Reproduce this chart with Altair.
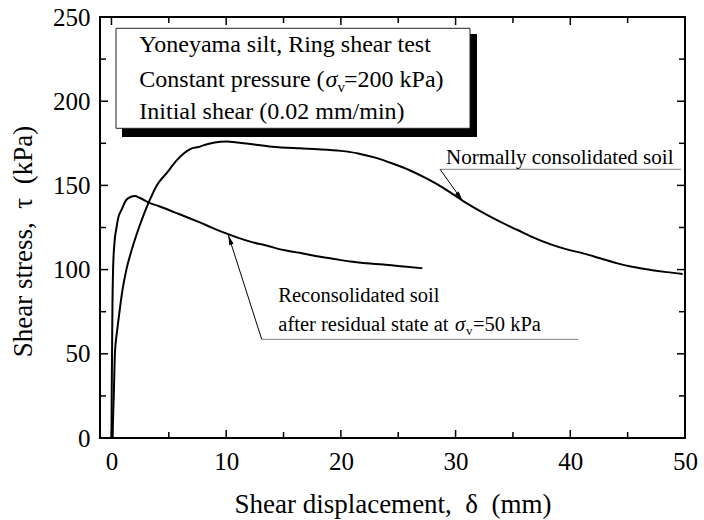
import altair as alt
import pandas as pd

# ---- data ----
nc_x = [0.1, 0.15, 0.2, 0.3, 0.5, 0.7, 0.95, 1.3, 1.8, 2.4, 2.95, 3.35, 3.95, 4.9, 5.7, 6.3, 7.0,
        7.6, 8.1, 9.0, 10.0, 11.0, 12.1, 14.0, 16.4, 18.0, 20.0, 21.5, 23.0, 24.5, 26.0, 27.5, 28.3,
        29.5, 30.6, 32.5, 34.0, 35.4, 36.8, 38.3, 39.7, 41.2, 42.6, 44.1, 45.5, 47.0, 48.4, 49.8]
nc_y = [0, 15, 25, 50, 64, 75, 87.5, 100, 112.5, 125, 135, 141.5, 150, 158, 165, 169, 172,
        172.8, 174, 175.5, 176, 175.5, 174.6, 173, 172, 171.5, 170.5, 169, 166.5, 163, 159, 154, 151,
        146, 141, 133.4, 128, 123.5, 119, 115, 112, 109.5, 106.7, 103.7, 101.5, 99.8, 98.5, 97.4]

rc_x = [0.0, 0.02, 0.05, 0.08, 0.14, 0.25, 0.44, 0.6, 0.87, 1.31, 1.7, 2.03, 2.5, 3.35, 4.1, 4.8,
        5.5, 6.26, 7.7, 8.8, 10.0, 11.0, 12.1, 13.5, 15.0, 16.4, 17.9, 19.4, 20.8, 22.2, 23.7, 25.5, 27.1]
rc_y = [0, 25, 50, 75, 100, 115, 125, 131, 135.4, 141.5, 143.3, 143.7, 142.5, 139.5, 137.8, 136,
        134, 132, 128, 124.8, 121.5, 119, 116.6, 114.3, 111.6, 110, 107.9, 106.3, 104.8, 103.8,
        103.0, 101.8, 100.8]

x_major = [0, 10, 20, 30, 40, 50]
x_minor = [5, 15, 25, 35, 45]
y_major = [0, 50, 100, 150, 200, 250]
y_minor = [25, 75, 125, 175, 225]

box_lines = ["Yoneyama silt, Ring shear test", "Constant pressure (", "=200 kPa)",
             "Initial shear (0.02 mm/min)"]
nc_label = "Normally consolidated soil"
rc_label1 = "Reconsolidated soil"
rc_label2 = "after residual state at"
rc_label3 = "=50 kPa"

W, H = 585, 421
FONT = "Liberation Serif"

xs = alt.Scale(domain=[-1, 50], nice=False, zero=False)
ys = alt.Scale(domain=[0, 250], nice=False, zero=False)

curves = pd.concat([
    pd.DataFrame({"x": nc_x, "y": nc_y, "s": "nc"}),
    pd.DataFrame({"x": rc_x, "y": rc_y, "s": "rc"}),
])

lines = alt.Chart(curves).mark_line(color="black", strokeWidth=2, interpolate="monotone").encode(
    x=alt.X("x:Q", scale=xs, axis=alt.Axis(
        values=x_major, ticks=False, tickSize=0, domain=False, grid=False, labelFlush=False,
        labelFontSize=25, labelPadding=11, labelColor="black",
        title="Shear displacement,\u00a0 \u03b4\u00a0 (mm)", titleFontSize=27,
        titleFontWeight="normal", titleColor="black", titleY=74, titleBaseline="alphabetic")),
    y=alt.Y("y:Q", scale=ys, axis=alt.Axis(
        values=y_major, ticks=False, tickSize=0, domain=False, grid=False, labelFlush=False,
        labelFontSize=25, labelPadding=10, labelColor="black",
        title="Shear stress,\u00a0 \u03c4\u00a0 (kPa)", titleFontSize=27, titleFontWeight="normal",
        titleColor="black", titleX=-69, titleY=224, titleAngle=270, titleAlign="center",
        titleBaseline="alphabetic")),
    detail="s:N",
)

def xticks(vals, length):
    d = pd.DataFrame({"x": vals})
    b = alt.Chart(d).mark_rule(color="black", strokeWidth=1.5).encode(
        x=alt.X("x:Q", scale=xs), y=alt.value(H), y2=alt.value(H - length))
    t = alt.Chart(d).mark_rule(color="black", strokeWidth=1.5).encode(
        x=alt.X("x:Q", scale=xs), y=alt.value(0), y2=alt.value(length))
    return [b, t]

def yticks(vals, length):
    d = pd.DataFrame({"y": vals})
    l = alt.Chart(d).mark_rule(color="black", strokeWidth=1.5).encode(
        y=alt.Y("y:Q", scale=ys), x=alt.value(0), x2=alt.value(length))
    r = alt.Chart(d).mark_rule(color="black", strokeWidth=1.5).encode(
        y=alt.Y("y:Q", scale=ys), x=alt.value(W), x2=alt.value(W - length))
    return [l, r]

dummy = pd.DataFrame({"k": [0]})

def txt(s, px, py, size, italic=False):
    return alt.Chart(dummy).mark_text(
        text=s, font=FONT, fontSize=size, fontStyle="italic" if italic else "normal",
        align="left", baseline="alphabetic", color="black").encode(
        x=alt.value(px), y=alt.value(py))

def seg(x1, y1, x2, y2, color="black", w=1.0):
    return alt.Chart(dummy).mark_rule(color=color, strokeWidth=w).encode(
        x=alt.value(x1), y=alt.value(y1), x2=alt.value(x2), y2=alt.value(y2))

def rect(x1, y1, x2, y2, fill, stroke=None):
    kw = {"fill": fill}
    if stroke:
        kw.update(stroke=stroke, strokeWidth=1)
    return alt.Chart(dummy).mark_rect(**kw).encode(
        x=alt.value(x1), x2=alt.value(x2), y=alt.value(y1), y2=alt.value(y2))

def arrow(px, py, ang):
    return alt.Chart(dummy).mark_point(
        shape="M0,0L-0.45,2L0.45,2Z", size=100, filled=True, color="black", opacity=1,
        strokeWidth=0, angle=ang).encode(x=alt.value(px), y=alt.value(py))

layers = []
layers += xticks(x_major, 8) + xticks(x_minor, 6)
layers += yticks(y_major, 8) + yticks(y_minor, 6)
layers.append(lines)
# text box with shadow
layers.append(rect(22, 17, 377, 120, "black"))
layers.append(rect(16, 11.3, 370, 111.3, "white", stroke="#222222"))
layers.append(txt(box_lines[0], 39.3, 35, 24))
layers.append(txt(box_lines[1], 39.3, 70, 24))
layers.append(txt("\u03c3", 225.5, 70, 24, italic=True))
layers.append(txt("v", 237.5, 75, 15))
layers.append(txt(box_lines[2], 244, 70, 24))
layers.append(txt(box_lines[3], 39.3, 102, 24))
# normally consolidated annotation
layers.append(seg(340, 152.3, 581, 152.3, color="#808080"))
layers.append(seg(340, 152.3, 362.7, 184))
layers.append(arrow(362.7, 184, 144))
layers.append(txt(nc_label, 346, 147, 21))
# reconsolidated annotation
layers.append(seg(161.7, 322.3, 478.3, 322.3, color="#808080"))
layers.append(seg(161.7, 322.3, 128.3, 218))
layers.append(arrow(128.3, 218, 342))
layers.append(txt(rc_label1, 178.3, 284.7, 20.5))
layers.append(txt(rc_label2, 178.3, 313.7, 20.5))
layers.append(txt("\u03c3", 355, 313.7, 20.5, italic=True))
layers.append(txt("v", 366, 318, 13))
layers.append(txt(rc_label3, 373, 313.7, 20.5))

chart = alt.layer(*layers).properties(
    width=W, height=H,
    autosize=alt.AutoSizeParams(type="none"),
    padding={"left": 100, "top": 17, "right": 19, "bottom": 82},
).configure_view(stroke="black", strokeWidth=2).configure_axis(
    labelFont=FONT, titleFont=FONT
).configure_text(font=FONT)

chart.save("out.html", embed_options={"renderer": "svg", "actions": False})
